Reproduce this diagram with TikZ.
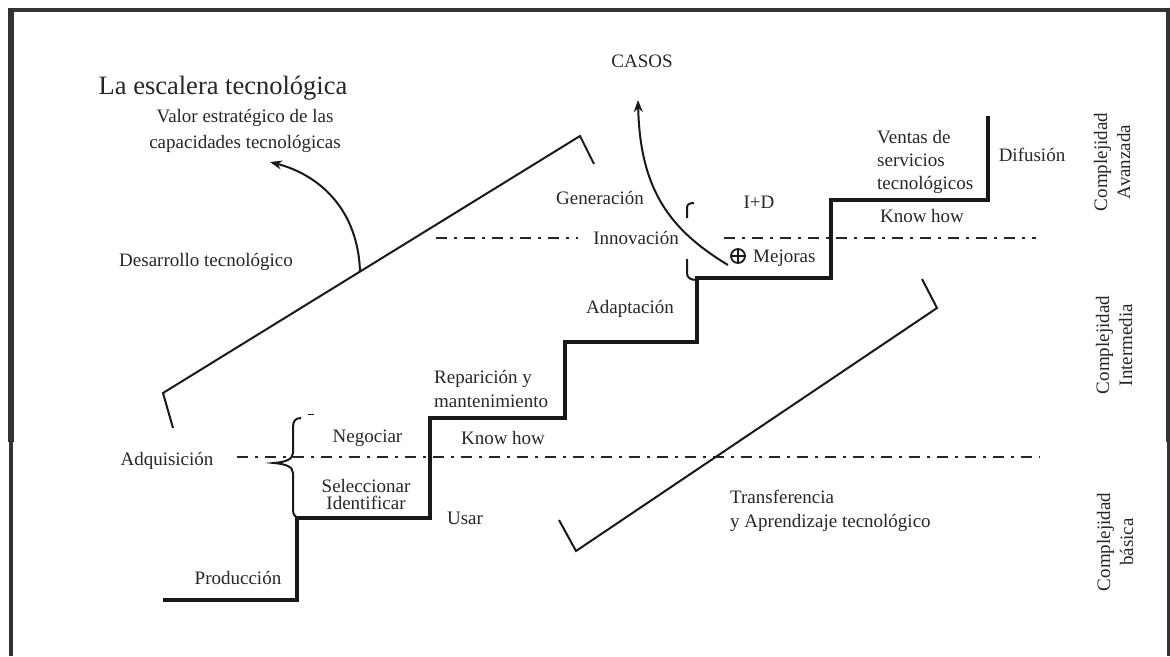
\documentclass[tikz,border=0pt]{standalone}
\usepackage{fontspec}
\setmainfont{Liberation Serif}
\usetikzlibrary{arrows.meta}
\begin{document}
\begin{tikzpicture}[x=1pt,y=-1pt,
  stair/.style={line width=4pt, line join=miter, draw=black!90},
  thinline/.style={line width=2pt, line join=miter, draw=black!90},
  dashdot/.style={line width=2.4pt, draw=black!85, dash pattern=on 11pt off 7pt on 3pt off 7pt},
  brk/.style={line width=2pt, draw=black!90},
  arr/.style={line width=2pt, draw=black!90, -{Stealth[length=12pt,width=9pt]}},
  framel/.style={draw=black!80},
  txt/.style={inner sep=0pt, text=black!85, font=\fontsize{19}{23}\selectfont},
  lbl/.style={txt, anchor=base},
  vlbl/.style={txt, rotate=90, align=center, anchor=center}
]
\useasboundingbox (0,0) rectangle (1170,656);

% frame
\draw[framel, line width=4pt] (8,9.5) -- (1170,9.5);
\draw[framel, line width=5.5pt] (11.2,7.5) -- (11.2,442);
\draw[framel, line width=4pt] (10.5,442) -- (10.5,656);
\draw[framel, line width=4pt] (1168,7.5) -- (1168,442);
\draw[framel, line width=2.7pt] (1168.3,442) -- (1168.3,656);

% dash-dot level lines
\draw[dashdot] (237,457) -- (1040,457);
\draw[dashdot] (436,238) -- (578,238);
\draw[dashdot] (724,238) -- (1036,238);

% staircase
\draw[stair] (163,600) -| (297,518) -| (430,418) -| (565,342) -| (697,278) -| (831,200) -| (988,116);

% long diagonal brackets
\draw[thinline] (173,428) -- (163,393) -- (580,136) -- (594,164);
\draw[thinline] (559,520) -- (576,551) -- (937,308) -- (922,279);

% curly brace (Adquisicion)
\draw[brk] (301,418) .. controls (295.5,418) and (293,421) .. (293,427) -- (293,453)
  .. controls (293,459) and (286,462) .. (274,463)
  .. controls (286,464) and (293,467) .. (293,473) -- (293,510)
  .. controls (293,515) and (295.5,518) .. (301,518);
\draw[line width=1.8pt, draw=black!90] (308,414.5) -- (314,414.5);

% bracket (Innovacion)
\draw[brk] (687,218) -- (687,208) .. controls (687,204.5) and (689,203) .. (694,203);
\draw[brk] (687,259) -- (687,273) .. controls (687,277.5) and (690,280) .. (697,280);

% circled plus
\node[circle, draw=black!90, line width=1.8pt, minimum size=14pt, inner sep=0pt,
  path picture={\draw[line width=1.8pt] (path picture bounding box.north) -- (path picture bounding box.south)
  (path picture bounding box.west) -- (path picture bounding box.east);}] (oplus) at (738,256) {};

% arrows
\coordinate (dA) at (360,271.5);
\coordinate (vtip) at (270,162);
\draw[arr] (dA) .. controls (358,210) and (320,175) .. (vtip);
\coordinate (mA) at (728,265);
\coordinate (ctip) at (638,100);
\draw[arr] (mA) .. controls (670,230) and (640,190) .. (ctip);

% texts
\node[lbl, font=\fontsize{26.5}{30}\selectfont] (title) at (223,94) {La escalera tecnológica};
\node[txt, anchor=north, align=center, font=\fontsize{19}{26}\selectfont] (valor) at (245,109) {Valor estratégico de las\\capacidades tecnológicas};
\node[lbl] (desarrollo) at (206,266) {Desarrollo tecnológico};
\node[lbl] (casos) at (642,67) {CASOS};
\node[lbl] (generacion) at (600,204) {Generación};
\node[lbl] (imasd) at (759,208) {I+D};
\node[lbl] (innovacion) at (636,244) {Innovación};
\node[lbl, anchor=base west] (mejoras) at (753,262) {Mejoras};
\node[lbl] (adaptacion) at (630,313) {Adaptación};
\node[txt, anchor=north west, align=left] (ventas) at (877,130) {Ventas de\\servicios\\tecnológicos};
\node[lbl] (knowhowup) at (922,222) {Know how};
\node[lbl] (difusion) at (1032,161) {Difusión};
\node[vlbl] (cavz) at (1112,162) {Complejidad\\Avanzada};
\node[vlbl] (cint) at (1114,345) {Complejidad\\Intermedia};
\node[vlbl] (cbas) at (1115,542) {Complejidad\\básica};
\node[lbl] (adquisicion) at (167,465) {Adquisición};
\node[lbl] (negociar) at (367.5,442) {Negociar};
\node[txt, anchor=north, align=center, font=\fontsize{19}{17}\selectfont] (selec) at (366,479) {Seleccionar\\Identificar};
\node[lbl] (knowhowlo) at (503,444) {Know how};
\node[txt, anchor=north west, align=left, font=\fontsize{19}{24}\selectfont] (reparicion) at (434,370) {Reparición y\\mantenimiento};
\node[lbl] (usar) at (465,524) {Usar};
\node[lbl] (produccion) at (238,584) {Producción};
\node[txt, anchor=north west, align=left, font=\fontsize{19}{24}\selectfont] (transfer) at (730,490) {Transferencia\\y Aprendizaje tecnológico};
\end{tikzpicture}
\end{document}
